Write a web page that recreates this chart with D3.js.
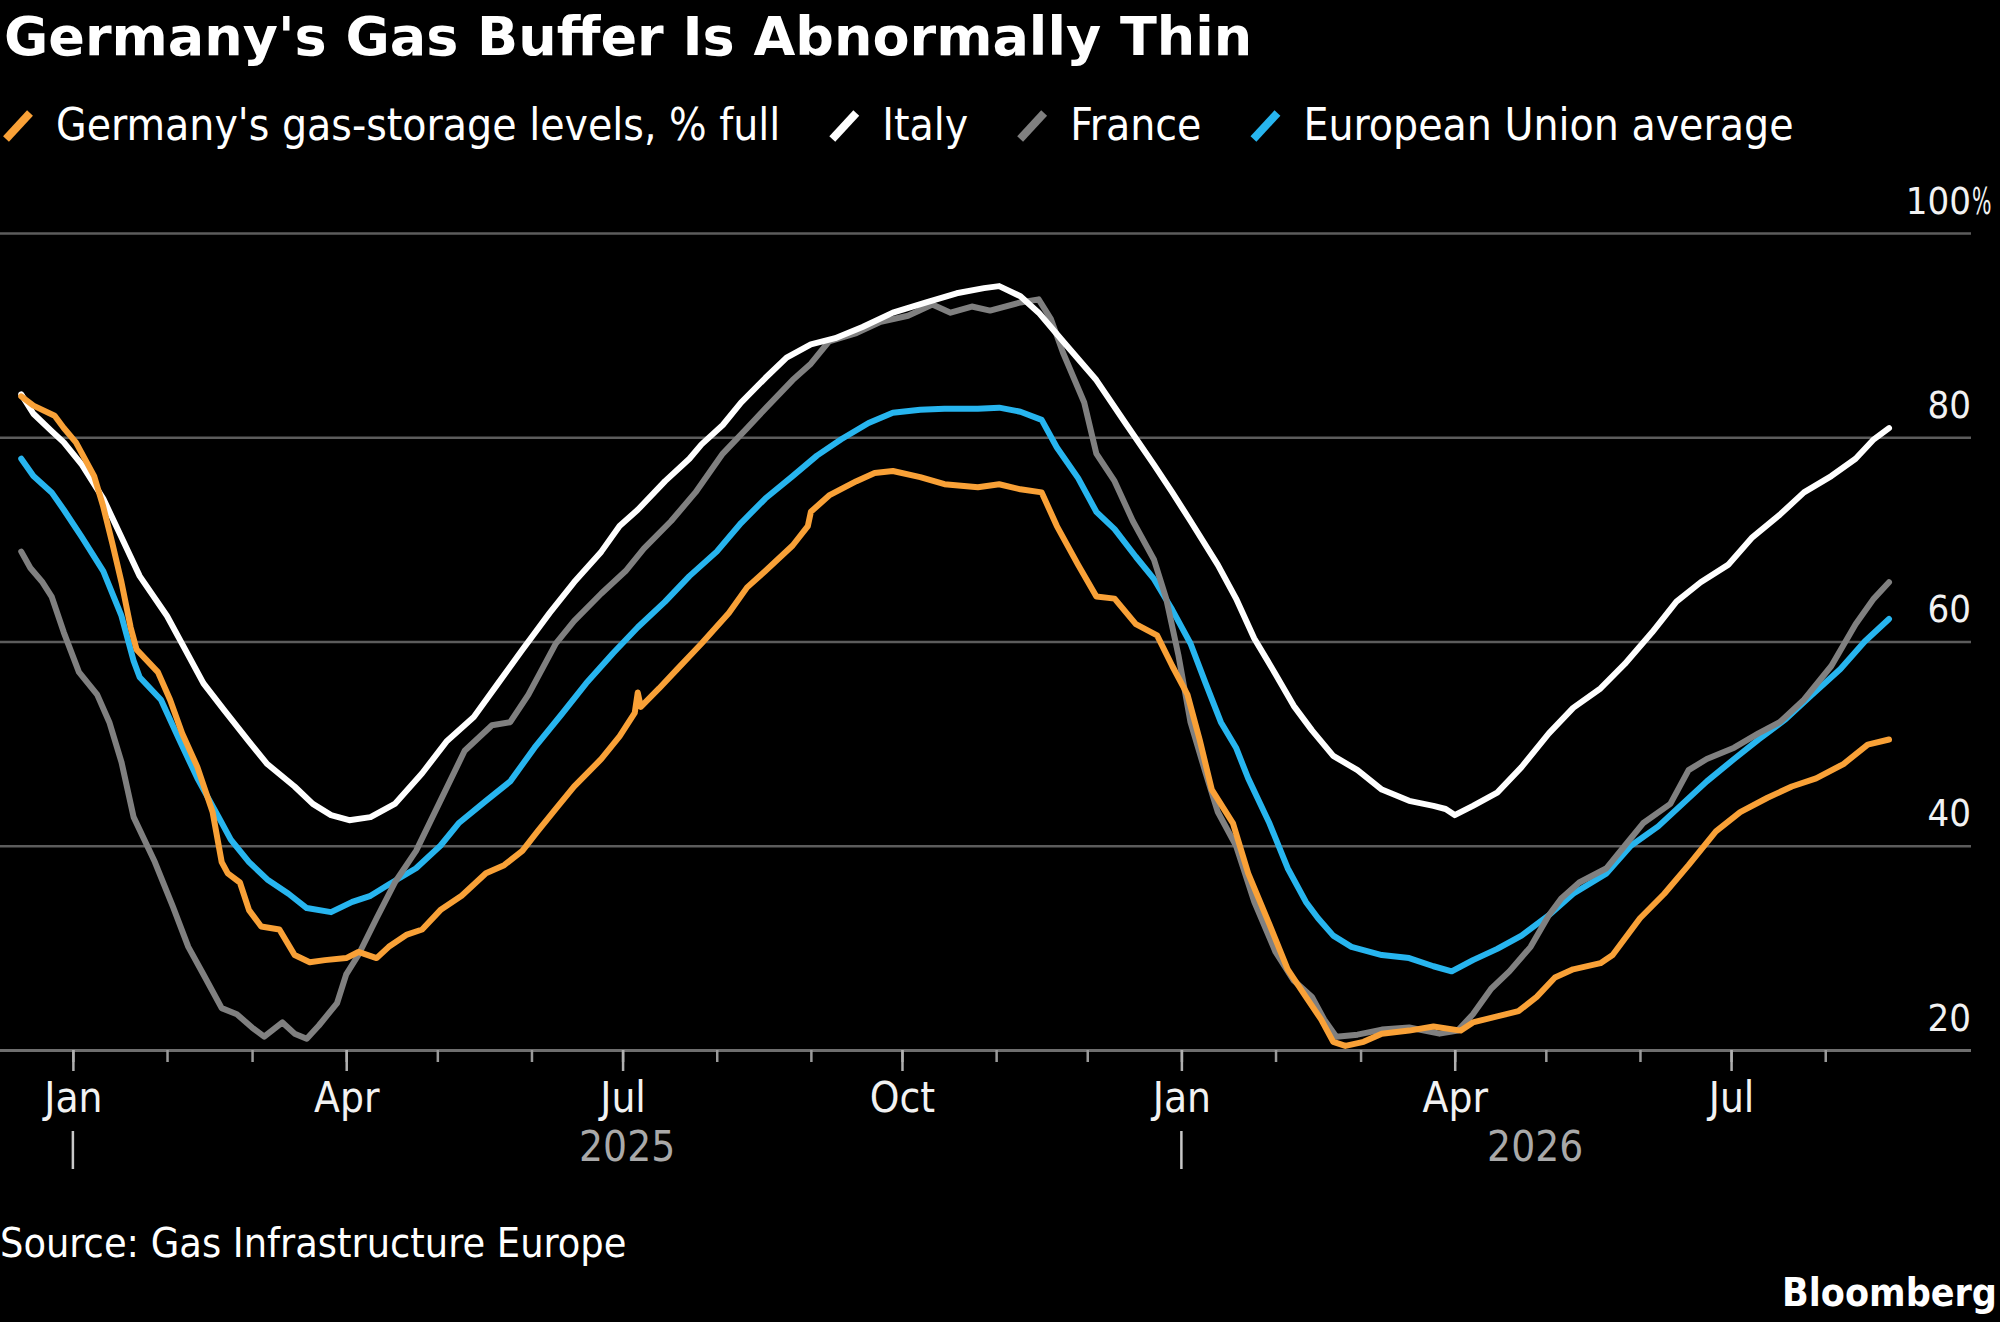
<!DOCTYPE html>
<html lang="en">
<head>
<meta charset="UTF-8">
<title>Germany's Gas Buffer Is Abnormally Thin</title>
<script src="https://d3js.org/d3.v7.min.js"></script>
<style>
    body {margin: 0; background: #000;}
    svg {display: block; background: #000;}
    text {font-family: "DejaVu Sans Condensed", "DejaVu Sans", sans-serif; fill: #fff;}
    .title {font-family: "DejaVu Sans", sans-serif; font-weight: bold; font-size: 54px;}
    .legend text {font-size: 44px;}
    .grid line {stroke: #5c5c5c; stroke-width: 2.5;}
    .grid .axisline line {stroke: #6e6e6e; stroke-width: 3;}
    .grid text {font-size: 38px; fill: #f2f2f2;}
    .minor line {stroke: #9a9a9a; stroke-width: 2.5;}
    .major line {stroke: #b0b0b0; stroke-width: 2.5;}
    .major text {font-size: 42px; fill: #f2f2f2;}
    .yearTick {stroke: #c8c8c8; stroke-width: 2.5;}
    .year {font-size: 42px; fill: #a9a9a9;}
    .source {font-size: 41px;}
    .brand {font-weight: bold; font-size: 39px;}
    .series {fill: none; stroke-width: 6; stroke-linejoin: round; stroke-linecap: round;}
</style>
</head>
<body>
<div id="chart"></div>

<script>

    // storage levels, % full
    var germany = [
        ["2024-12-15",84.0],["2024-12-19",83.1],["2024-12-26",82.1],["2024-12-29",80.9],
        ["2025-01-02",79.5],["2025-01-08",76.2],["2025-01-11",73.2],["2025-01-14",69.6],["2025-01-17",65.8],["2025-01-20",61.4],["2025-01-22",59.2],["2025-01-29",57.0],
        ["2025-02-02",54.3],["2025-02-06",51.0],["2025-02-11",47.7],["2025-02-16",43.3],["2025-02-19",38.4],["2025-02-21",37.3],["2025-02-25",36.4],["2025-02-28",33.7],
        ["2025-03-04",32.1],["2025-03-10",31.8],["2025-03-15",29.3],["2025-03-20",28.6],["2025-03-25",28.8],
        ["2025-04-01",29.0],["2025-04-05",29.6],["2025-04-11",29.0],["2025-04-15",30.1],["2025-04-21",31.3],["2025-04-26",31.8],
        ["2025-05-02",33.7],["2025-05-09",35.1],["2025-05-17",37.3],["2025-05-23",38.1],["2025-05-29",39.5],
        ["2025-06-03",41.4],["2025-06-09",43.6],["2025-06-15",45.8],["2025-06-24",48.5],["2025-06-30",50.7],
        ["2025-07-05",53.0],["2025-07-06",55.0],["2025-07-07",53.6],["2025-07-13",55.4],["2025-07-19",57.3],["2025-07-27",59.8],
        ["2025-08-05",62.8],["2025-08-11",65.3],["2025-08-17",66.9],["2025-08-26",69.4],["2025-08-31",71.3],
        ["2025-09-01",72.7],["2025-09-07",74.3],["2025-09-16",75.7],["2025-09-22",76.5],["2025-09-28",76.7],
        ["2025-10-07",76.1],["2025-10-15",75.4],["2025-10-26",75.1],["2025-11-02",75.4],["2025-11-09",74.9],["2025-11-16",74.6],["2025-11-21",71.3],["2025-11-28",67.5],
        ["2025-12-04",64.4],["2025-12-10",64.2],["2025-12-17",61.7],["2025-12-24",60.6],["2025-12-29",57.6],
        ["2026-01-03",54.8],["2026-01-07",50.4],["2026-01-11",45.5],["2026-01-18",42.2],["2026-01-23",37.3],["2026-01-30",32.3],
        ["2026-02-05",27.9],["2026-02-11",25.2],["2026-02-16",23.0],["2026-02-20",20.8],["2026-02-24",20.4],
        ["2026-03-02",20.8],["2026-03-08",21.6],["2026-03-17",21.9],["2026-03-25",22.3],
        ["2026-04-03",21.9],["2026-04-07",22.7],["2026-04-15",23.3],["2026-04-22",23.8],["2026-04-28",25.2],
        ["2026-05-04",27.1],["2026-05-10",27.9],["2026-05-19",28.5],["2026-05-23",29.3],
        ["2026-06-01",32.9],["2026-06-09",35.3],["2026-06-17",38.1],["2026-06-26",41.4],
        ["2026-07-04",43.3],["2026-07-13",44.7],["2026-07-21",45.8],["2026-07-29",46.6],
        ["2026-08-07",48.0],["2026-08-15",49.9],["2026-08-22",50.4]
    ];

    var italy = [
        ["2024-12-15",84.2],["2024-12-19",82.3],["2024-12-25",80.6],["2024-12-29",79.5],
        ["2025-01-04",77.3],["2025-01-11",74.0],["2025-01-17",70.2],["2025-01-23",66.4],
        ["2025-02-01",62.5],["2025-02-07",59.2],["2025-02-13",55.9],["2025-02-20",53.2],["2025-02-28",50.2],
        ["2025-03-06",48.0],["2025-03-15",45.8],["2025-03-21",44.1],["2025-03-27",43.0],
        ["2025-04-02",42.5],["2025-04-09",42.8],["2025-04-17",44.1],["2025-04-26",47.1],
        ["2025-05-04",50.2],["2025-05-13",52.6],["2025-05-21",55.9],["2025-05-29",59.2],
        ["2025-06-07",62.8],["2025-06-15",65.8],["2025-06-24",68.8],["2025-06-30",71.3],
        ["2025-07-06",72.9],["2025-07-15",75.7],["2025-07-23",77.9],["2025-07-27",79.3],
        ["2025-08-03",81.2],["2025-08-09",83.4],["2025-08-17",85.8],["2025-08-24",87.8],
        ["2025-09-01",89.1],["2025-09-09",89.7],["2025-09-18",90.8],["2025-09-28",92.2],
        ["2025-10-09",93.2],["2025-10-19",94.1],["2025-10-28",94.6],["2025-11-02",94.8],["2025-11-09",93.8],["2025-11-15",92.2],["2025-11-23",89.4],
        ["2025-12-04",85.6],["2025-12-14",81.2],["2025-12-23",77.3],["2025-12-29",74.6],
        ["2026-01-04",71.8],["2026-01-13",67.5],["2026-01-19",64.2],["2026-01-25",60.3],
        ["2026-02-01",56.8],["2026-02-07",53.7],["2026-02-13",51.3],["2026-02-20",48.8],["2026-02-28",47.4],
        ["2026-03-08",45.5],["2026-03-17",44.4],["2026-03-25",43.9],["2026-03-29",43.6],
        ["2026-04-01",43.0],["2026-04-07",43.9],["2026-04-15",45.2],["2026-04-23",47.7],
        ["2026-05-02",51.0],["2026-05-10",53.5],["2026-05-19",55.4],["2026-05-27",57.8],
        ["2026-06-05",60.9],["2026-06-13",63.9],["2026-06-21",65.8],["2026-06-30",67.5],
        ["2026-07-08",70.2],["2026-07-17",72.4],["2026-07-25",74.6],
        ["2026-08-03",76.2],["2026-08-11",77.9],["2026-08-17",79.8],["2026-08-22",80.9]
    ];

    var france = [
        ["2024-12-15",68.8],["2024-12-18",67.2],["2024-12-22",65.8],["2024-12-25",64.4],["2024-12-29",60.9],
        ["2025-01-03",57.0],["2025-01-09",54.8],["2025-01-13",52.1],["2025-01-17",48.2],["2025-01-21",42.8],["2025-01-28",38.4],
        ["2025-02-03",34.0],["2025-02-08",30.1],["2025-02-13",27.4],["2025-02-19",24.1],["2025-02-24",23.5],
        ["2025-03-01",22.2],["2025-03-05",21.3],["2025-03-11",22.7],["2025-03-15",21.6],["2025-03-19",21.1],["2025-03-23",22.4],["2025-03-29",24.6],
        ["2025-04-01",27.4],["2025-04-05",29.3],["2025-04-11",32.9],["2025-04-17",36.4],["2025-04-24",39.5],
        ["2025-05-02",44.4],["2025-05-10",49.3],["2025-05-19",51.8],["2025-05-25",52.1],["2025-05-31",54.8],
        ["2025-06-09",59.8],["2025-06-15",62.0],["2025-06-24",64.7],
        ["2025-07-02",66.9],["2025-07-08",69.1],["2025-07-17",71.8],["2025-07-25",74.6],
        ["2025-08-03",78.4],["2025-08-11",80.9],["2025-08-17",82.8],["2025-08-26",85.6],
        ["2025-09-01",87.2],["2025-09-07",89.4],["2025-09-16",90.2],["2025-09-24",91.3],
        ["2025-10-03",91.9],["2025-10-11",93.0],["2025-10-17",92.2],["2025-10-24",92.8],["2025-10-30",92.4],
        ["2025-11-09",93.2],["2025-11-15",93.5],["2025-11-19",91.6],["2025-11-23",88.3],["2025-11-30",83.4],
        ["2025-12-04",78.4],["2025-12-10",75.7],["2025-12-16",71.8],["2025-12-23",68.0],["2025-12-27",64.2],["2025-12-31",58.7],
        ["2026-01-04",52.1],["2026-01-09",47.1],["2026-01-13",43.3],["2026-01-19",40.0],["2026-01-25",34.5],
        ["2026-02-01",29.6],["2026-02-07",26.8],["2026-02-13",25.2],["2026-02-17",23.0],["2026-02-21",21.3],["2026-02-28",21.5],
        ["2026-03-08",22.0],["2026-03-17",22.2],["2026-03-27",21.6],
        ["2026-04-02",21.9],["2026-04-07",23.5],["2026-04-13",26.0],["2026-04-19",27.7],["2026-04-26",30.1],
        ["2026-05-02",33.2],["2026-05-06",34.8],["2026-05-12",36.4],["2026-05-21",37.8],["2026-05-27",40.0],
        ["2026-06-02",42.2],["2026-06-11",44.1],["2026-06-17",47.4],["2026-06-23",48.5],
        ["2026-07-02",49.6],["2026-07-10",51.0],["2026-07-17",52.1],["2026-07-25",54.3],
        ["2026-08-03",57.6],["2026-08-11",61.7],["2026-08-17",64.2],["2026-08-22",65.8]
    ];

    var eu = [
        ["2024-12-15",77.9],["2024-12-19",76.2],["2024-12-25",74.6],["2024-12-29",72.9],
        ["2025-01-04",70.2],["2025-01-11",66.9],["2025-01-17",62.5],["2025-01-21",58.1],["2025-01-23",56.5],["2025-01-30",54.3],
        ["2025-02-05",50.4],["2025-02-11",46.6],["2025-02-18",42.8],["2025-02-22",40.6],["2025-02-28",38.4],
        ["2025-03-06",36.7],["2025-03-13",35.3],["2025-03-19",33.9],["2025-03-27",33.5],
        ["2025-04-03",34.5],["2025-04-09",35.1],["2025-04-15",36.2],["2025-04-24",37.8],
        ["2025-05-02",40.0],["2025-05-08",42.2],["2025-05-17",44.4],["2025-05-25",46.3],
        ["2025-06-02",49.6],["2025-06-11",52.9],["2025-06-19",55.9],["2025-06-28",58.9],
        ["2025-07-06",61.4],["2025-07-15",63.9],["2025-07-23",66.4],
        ["2025-08-01",68.8],["2025-08-09",71.6],["2025-08-17",74.0],["2025-08-26",76.2],
        ["2025-09-03",78.2],["2025-09-11",79.8],["2025-09-20",81.4],["2025-09-28",82.4],
        ["2025-10-07",82.7],["2025-10-15",82.8],["2025-10-26",82.8],
        ["2025-11-02",82.9],["2025-11-09",82.5],["2025-11-16",81.7],["2025-11-21",79.0],["2025-11-28",76.0],
        ["2025-12-04",72.7],["2025-12-10",71.0],["2025-12-17",68.3],["2025-12-23",66.1],["2025-12-29",63.1],
        ["2026-01-04",59.8],["2026-01-09",55.9],["2026-01-14",52.1],["2026-01-19",49.6],["2026-01-23",46.6],["2026-01-30",42.2],
        ["2026-02-05",37.8],["2026-02-11",34.5],["2026-02-15",32.9],["2026-02-20",31.2],["2026-02-26",30.1],
        ["2026-03-08",29.3],["2026-03-17",29.0],["2026-03-25",28.2],["2026-03-31",27.7],
        ["2026-04-07",28.8],["2026-04-15",29.9],["2026-04-23",31.2],
        ["2026-05-02",33.2],["2026-05-10",35.3],["2026-05-21",37.3],["2026-05-29",40.0],
        ["2026-06-07",41.9],["2026-06-15",44.1],["2026-06-23",46.3],
        ["2026-07-02",48.5],["2026-07-10",50.4],["2026-07-19",52.4],["2026-07-27",54.6],
        ["2026-08-06",57.3],["2026-08-14",60.0],["2026-08-22",62.2]
    ];

    var legendLabels = ["Germany's gas-storage levels, % full", "Italy", "France", "European Union average"];
    var yTicks = [20, 40, 60, 80, 100];
    var years = [2025, 2026];

    var lineColors = ["#f9a137", "#ffffff", "#808080", "#27b5ef"];
    var seriesData = [germany, italy, france, eu];

    var width = 2000,
        height = 1322,
        plotRight = 1971,
        plotTop = 233,
        plotBottom = 1050;

    var parseDate = d3.timeParse("%Y-%m-%d");

    var series = seriesData.map(function(s, i) {
        return {
            label: legendLabels[i],
            color: lineColors[i],
            values: s.map(function(d) { return {date: parseDate(d[0]), value: d[1]}; })
        };
    });

    var lastDate = d3.max(series, function(s) { return d3.max(s.values, function(d) { return d.date; }); });

    var x = d3.scaleTime()
        .domain([parseDate("2024-12-08"), parseDate("2026-09-18")])
        .range([0, plotRight]);

    var y = d3.scaleLinear()
        .domain([20, 100])
        .range([plotBottom, plotTop]);

    var svg = d3.select("#chart").append("svg")
        .attr("width", width)
        .attr("height", height);

    // title
    svg.append("text")
        .attr("class", "title")
        .attr("x", 4)
        .attr("y", 55)
        .text("Germany's Gas Buffer Is Abnormally Thin");

    // legend, laid out left to right
    var legend = svg.append("g").attr("class", "legend");
    var lx = 0;
    series.forEach(function(s) {
        var item = legend.append("g").attr("transform", "translate(" + lx + ",0)");
        item.append("line")
            .attr("x1", 6).attr("y1", 139)
            .attr("x2", 30).attr("y2", 113)
            .attr("stroke", s.color)
            .attr("stroke-width", 8);
        var t = item.append("text")
            .attr("x", 56)
            .attr("y", 140)
            .text(s.label);
        lx += 56 + t.node().getComputedTextLength() + 46;
    });

    // horizontal gridlines + right-hand labels
    var gridAxis = d3.axisRight(y)
        .tickValues(yTicks)
        .tickSize(plotRight)
        .tickFormat(function(d) { return d; });

    var grid = svg.append("g")
        .attr("class", "grid")
        .call(gridAxis);
    grid.select(".domain").remove();
    grid.selectAll(".tick")
        .classed("axisline", function(d) { return d === 20; });
    grid.selectAll(".tick text")
        .attr("x", plotRight)
        .attr("dy", null)
        .attr("y", -20)
        .attr("text-anchor", "end");
    // the % sign hangs past the end of the gridline, squeezed narrow
    grid.selectAll(".tick")
        .filter(function(d) { return d === 100; })
        .append("text")
        .attr("transform", "translate(" + (plotRight + 1) + ",-20) scale(0.6,1)")
        .text("%");

    // month ticks
    var months = d3.timeMonth.range(parseDate("2025-01-01"), lastDate);
    var quarters = months.filter(function(d) { return d.getMonth() % 3 === 0; });

    var minorAxis = d3.axisBottom(x)
        .tickValues(months)
        .tickSize(12)
        .tickFormat("");
    svg.append("g")
        .attr("class", "minor")
        .attr("transform", "translate(0," + plotBottom + ")")
        .call(minorAxis)
        .select(".domain").remove();

    var majorAxis = d3.axisBottom(x)
        .tickValues(quarters)
        .tickSize(21)
        .tickPadding(11)
        .tickFormat(d3.timeFormat("%b"));
    svg.append("g")
        .attr("class", "major")
        .attr("transform", "translate(0," + plotBottom + ")")
        .call(majorAxis)
        .select(".domain").remove();

    // year row
    svg.selectAll(".yearTick")
        .data(years)
        .enter().append("line")
        .attr("class", "yearTick")
        .attr("x1", function(d) { return x(new Date(d, 0, 1)); })
        .attr("x2", function(d) { return x(new Date(d, 0, 1)); })
        .attr("y1", 1131)
        .attr("y2", 1169);

    svg.selectAll(".year")
        .data(years)
        .enter().append("text")
        .attr("class", "year")
        .attr("text-anchor", "middle")
        .attr("x", function(d) {
            var end = d3.min([new Date(d + 1, 0, 1), lastDate]);
            return (x(new Date(d, 0, 1)) + x(end)) / 2;
        })
        .attr("y", 1161)
        .text(function(d) { return d; });

    // lines, EU at the back, Germany on top
    var line = d3.line()
        .x(function(d) { return x(d.date); })
        .y(function(d) { return y(d.value); });

    svg.append("g").selectAll("path")
        .data(series.slice().reverse())
        .enter().append("path")
        .attr("class", "series")
        .attr("stroke", function(d) { return d.color; })
        .attr("d", function(d) { return line(d.values); });

    // footer
    svg.append("text")
        .attr("class", "source")
        .attr("x", 0)
        .attr("y", 1257)
        .text("Source: Gas Infrastructure Europe");

    svg.append("text")
        .attr("class", "brand")
        .attr("x", 1997)
        .attr("y", 1306)
        .attr("text-anchor", "end")
        .text("Bloomberg");

</script>
</body>
</html>
